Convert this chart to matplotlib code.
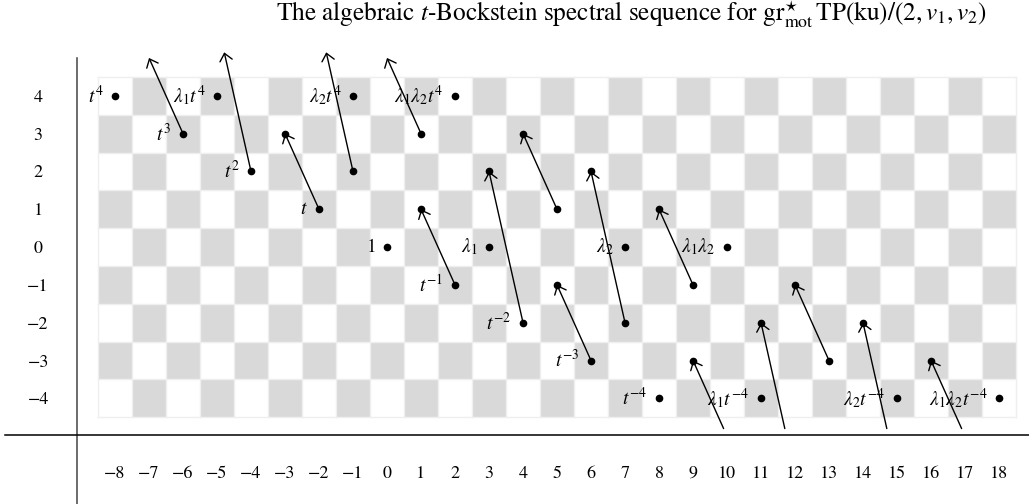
import matplotlib.pyplot as plt
from matplotlib.patches import FancyArrowPatch, Rectangle

plt.rcParams["font.family"] = ["STIXGeneral", "DejaVu Serif"]
plt.rcParams["mathtext.fontset"] = "stix"

# powers of t (filtration) for every tower, top to bottom
tower_y = [4, 3, 2, 1, 0, -1, -2, -3, -4]

# x-positions of the four towers 1, lambda1, lambda2, lambda1*lambda2
one_x = [-8, -6, -4, -2, 0, 2, 4, 6, 8]
lam1_x = [-5, -3, -1, 1, 3, 5, 7, 9, 11]
lam2_x = [-1, 1, 3, 5, 7, 9, 11, 13, 15]
lam12_x = [2, 4, 6, 8, 10, 12, 14, 16, 18]

one_labels = ["$t^{4}$", "$t^{3}$", "$t^{2}$", "$t$", "$1$",
              "$t^{-1}$", "$t^{-2}$", "$t^{-3}$", "$t^{-4}$"]
lam1_labels = [r"$\lambda_1 t^{4}$", "", "", "", r"$\lambda_1$", "", "", "", r"$\lambda_1 t^{-4}$"]
lam2_labels = [r"$\lambda_2 t^{4}$", "", "", "", r"$\lambda_2$", "", "", "", r"$\lambda_2 t^{-4}$"]
lam12_labels = [r"$\lambda_1\lambda_2 t^{4}$", "", "", "", r"$\lambda_1\lambda_2$", "", "", "",
                r"$\lambda_1\lambda_2 t^{-4}$"]

# differentials: source -> target
d2_src_x = [-6, -2, 2, 6, 10, 1, 5, 9, 13, 17]
d2_src_y = [3, 1, -1, -3, -5, 3, 1, -1, -3, -5]
d2_dst_x = [-7, -3, 1, 5, 9, 0, 4, 8, 12, 16]
d2_dst_y = [5, 3, 1, -1, -3, 5, 3, 1, -1, -3]

d4_src_x = [-4, -1, 4, 7, 12, 15]
d4_src_y = [2, 2, -2, -2, -6, -6]
d4_dst_x = [-5, -2, 3, 6, 11, 14]
d4_dst_y = [6, 6, 2, 2, -2, -2]

x_ticks = list(range(-8, 19))
y_ticks = list(range(-4, 5))

title = (r"The algebraic $t$-Bockstein spectral sequence for "
         r"$\mathrm{gr}^{\star}_{\mathrm{mot}}\,\mathrm{TP}(\mathrm{ku})/(2, v_1, v_2)$")

# arrows leaving the chart stop at these heights
TOP_CUT = 5.15
BOTTOM_CUT = -4.8

fig = plt.figure(figsize=(10.29, 5.04), dpi=100)
ax = fig.add_axes([77 / 1029, (504 - 435) / 504, (1029 - 77) / 1029, (435 - 58) / 504])
ax.set_xlim(-9.118, 18.882)
ax.set_ylim(-4.97, 5.0)

# checkerboard
for xx in x_ticks:
    for yy in y_ticks:
        if (xx + yy) % 2:
            ax.add_patch(Rectangle((xx - 0.5, yy - 0.5), 1, 1, color="#d9d9d9", lw=0, zorder=0))
for yy in [v - 0.5 for v in y_ticks] + [y_ticks[-1] + 0.5]:
    ax.plot([x_ticks[0] - 0.5, x_ticks[-1] + 0.5], [yy, yy], color="#efefef", lw=1, zorder=1)
for xx in [v - 0.5 for v in x_ticks] + [x_ticks[-1] + 0.5]:
    ax.plot([xx, xx], [y_ticks[0] - 0.5, y_ticks[-1] + 0.5], color="#efefef", lw=1, zorder=1)


def cut(x0, y0, x1, y1):
    # shorten a segment so it stays between BOTTOM_CUT and TOP_CUT
    if y1 > TOP_CUT:
        f = (TOP_CUT - y0) / (y1 - y0)
        x1, y1 = x0 + f * (x1 - x0), TOP_CUT
    if y0 < BOTTOM_CUT:
        f = (BOTTOM_CUT - y0) / (y1 - y0)
        x0, y0 = x0 + f * (x1 - x0), BOTTOM_CUT
    return x0, y0, x1, y1


for sx, sy, tx, ty in zip(d2_src_x + d4_src_x, d2_src_y + d4_src_y,
                          d2_dst_x + d4_dst_x, d2_dst_y + d4_dst_y):
    x0, y0, x1, y1 = cut(sx, sy, tx, ty)
    arr = FancyArrowPatch((x0, y0), (x1, y1), arrowstyle="->,head_length=0.35,head_width=0.3",
                          mutation_scale=15, lw=1, color="black", shrinkA=0, shrinkB=0,
                          clip_on=False, zorder=3)
    ax.add_patch(arr)

for xs, labels in [(one_x, one_labels), (lam1_x, lam1_labels),
                   (lam2_x, lam2_labels), (lam12_x, lam12_labels)]:
    ax.plot(xs, tower_y, "o", color="black", ms=4.5, zorder=4)
    for xx, yy, lab in zip(xs, tower_y, labels):
        if lab:
            ax.annotate(lab, (xx, yy), xytext=(-8.3, 0), textcoords="offset points",
                        ha="right", va="center", fontsize=14, zorder=2)

ax.set_xticks(x_ticks, [str(v).replace("-", "\u2212") for v in x_ticks])
ax.set_yticks(y_ticks, [str(v).replace("-", "\u2212") for v in y_ticks])
ax.tick_params(axis="both", length=0, labelsize=13)
ax.tick_params(axis="x", pad=22)
ax.tick_params(axis="y", pad=28)
for lab in ax.get_yticklabels():
    lab.set_horizontalalignment("center")

ax.spines["top"].set_visible(False)
ax.spines["right"].set_visible(False)
ax.spines["left"].set_bounds(-6.85, 5.0)
ax.spines["left"].set_color("#444444")
ax.spines["left"].set_linewidth(1.1)
ax.spines["bottom"].set_bounds(-11.24, 18.882)
ax.spines["bottom"].set_linewidth(1.1)

fig.text(631 / 1029, 1 - 15 / 504, title, ha="center", va="center", fontsize=18.2)

fig.savefig("out.png", dpi=100)
